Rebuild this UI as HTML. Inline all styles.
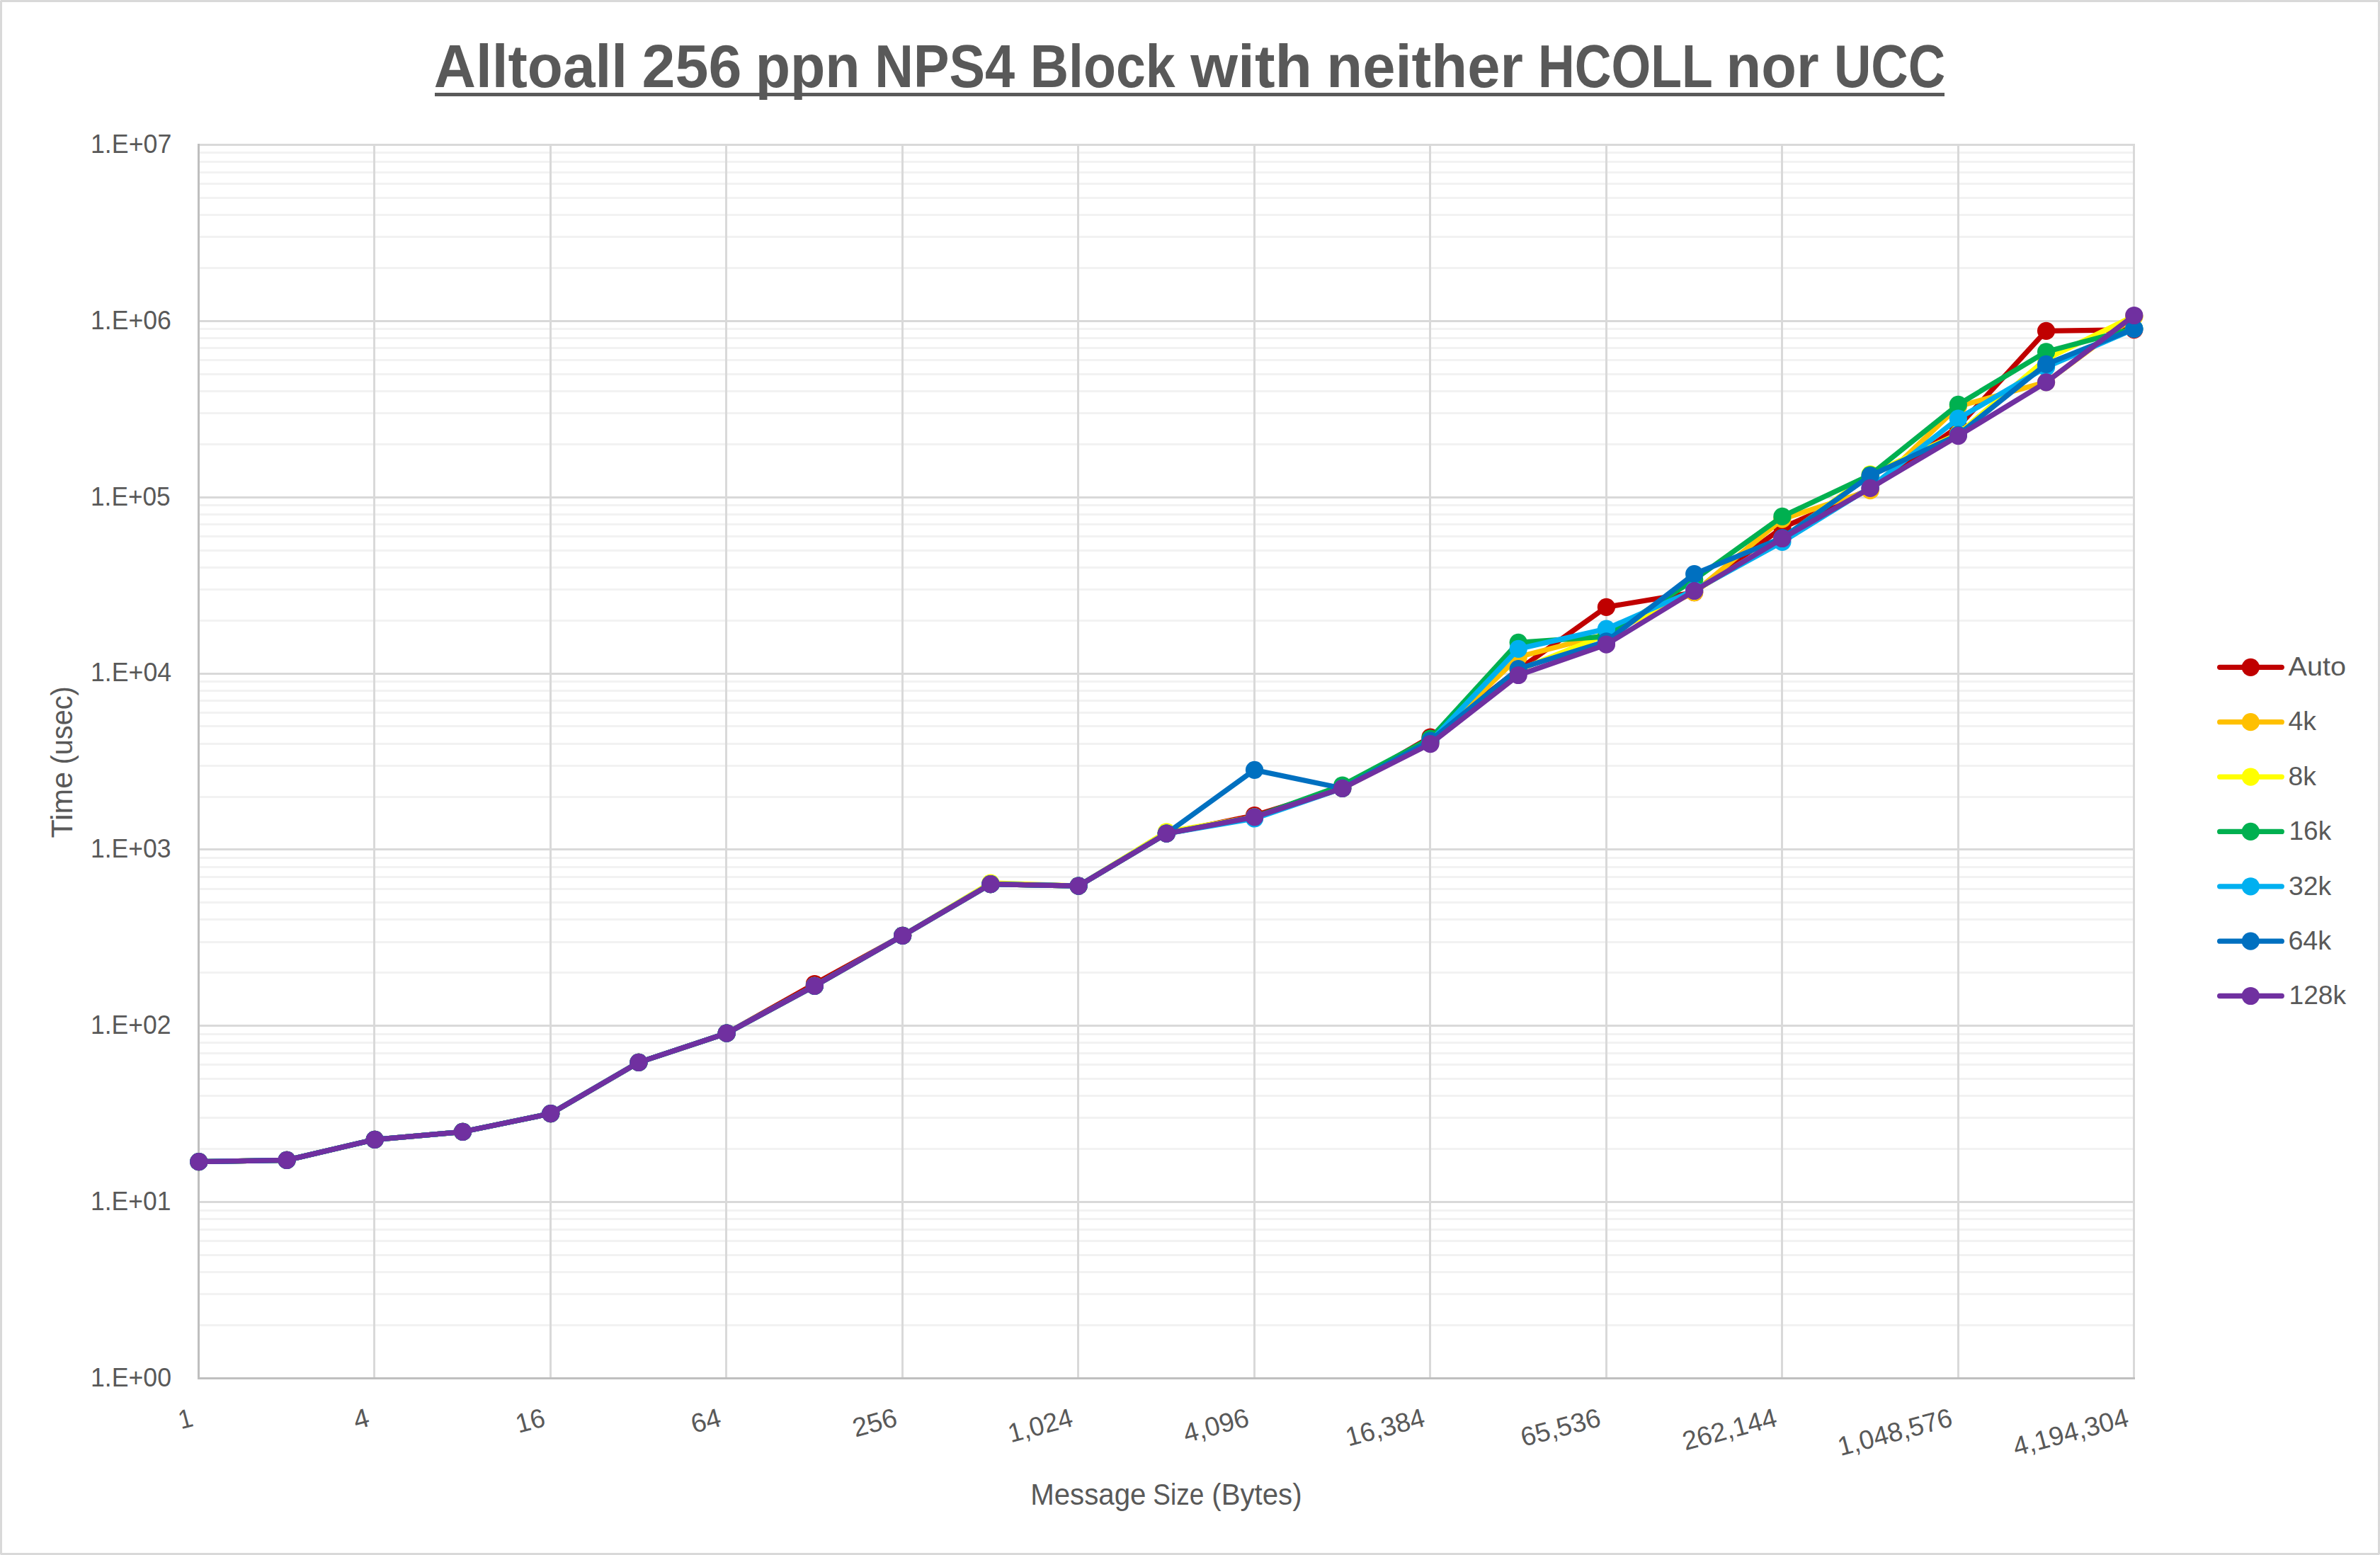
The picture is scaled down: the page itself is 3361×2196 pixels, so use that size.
<!DOCTYPE html>
<html lang="en"><head><meta charset="utf-8"><title>Alltoall 256 ppn NPS4 Block with neither HCOLL nor UCC</title>
<style>
html,body{margin:0;padding:0;background:#fff;}
body{width:3361px;height:2196px;overflow:hidden;}
svg{display:block;}
text{font-family:"Liberation Sans", sans-serif;fill:#595959;}
</style></head><body>
<svg width="3361" height="2196" viewBox="0 0 3361 2196">
<rect x="0" y="0" width="3361" height="2196" fill="#fff"/>
<rect x="1.5" y="1.5" width="3358" height="2193" fill="none" stroke="#D9D9D9" stroke-width="3"/>
<g fill="#F4F4F4"><rect x="0" y="0" width="1" height="1"/><rect x="3360" y="0" width="1" height="1"/><rect x="0" y="2195" width="1" height="1"/><rect x="3360" y="2195" width="1" height="1"/></g>

<g stroke="#F2F2F2" stroke-width="3" shape-rendering="crispEdges">
<line x1="280.5" x2="3013.5" y1="1871.50" y2="1871.50"/>
<line x1="280.5" x2="3013.5" y1="1827.50" y2="1827.50"/>
<line x1="280.5" x2="3013.5" y1="1796.50" y2="1796.50"/>
<line x1="280.5" x2="3013.5" y1="1772.50" y2="1772.50"/>
<line x1="280.5" x2="3013.5" y1="1752.50" y2="1752.50"/>
<line x1="280.5" x2="3013.5" y1="1736.50" y2="1736.50"/>
<line x1="280.5" x2="3013.5" y1="1721.50" y2="1721.50"/>
<line x1="280.5" x2="3013.5" y1="1709.50" y2="1709.50"/>
<line x1="280.5" x2="3013.5" y1="1622.50" y2="1622.50"/>
<line x1="280.5" x2="3013.5" y1="1578.50" y2="1578.50"/>
<line x1="280.5" x2="3013.5" y1="1547.50" y2="1547.50"/>
<line x1="280.5" x2="3013.5" y1="1523.50" y2="1523.50"/>
<line x1="280.5" x2="3013.5" y1="1503.50" y2="1503.50"/>
<line x1="280.5" x2="3013.5" y1="1487.50" y2="1487.50"/>
<line x1="280.5" x2="3013.5" y1="1472.50" y2="1472.50"/>
<line x1="280.5" x2="3013.5" y1="1460.50" y2="1460.50"/>
<line x1="280.5" x2="3013.5" y1="1373.50" y2="1373.50"/>
<line x1="280.5" x2="3013.5" y1="1330.50" y2="1330.50"/>
<line x1="280.5" x2="3013.5" y1="1298.50" y2="1298.50"/>
<line x1="280.5" x2="3013.5" y1="1274.50" y2="1274.50"/>
<line x1="280.5" x2="3013.5" y1="1255.50" y2="1255.50"/>
<line x1="280.5" x2="3013.5" y1="1238.50" y2="1238.50"/>
<line x1="280.5" x2="3013.5" y1="1224.50" y2="1224.50"/>
<line x1="280.5" x2="3013.5" y1="1211.50" y2="1211.50"/>
<line x1="280.5" x2="3013.5" y1="1125.50" y2="1125.50"/>
<line x1="280.5" x2="3013.5" y1="1081.50" y2="1081.50"/>
<line x1="280.5" x2="3013.5" y1="1050.50" y2="1050.50"/>
<line x1="280.5" x2="3013.5" y1="1025.50" y2="1025.50"/>
<line x1="280.5" x2="3013.5" y1="1006.50" y2="1006.50"/>
<line x1="280.5" x2="3013.5" y1="989.50" y2="989.50"/>
<line x1="280.5" x2="3013.5" y1="975.50" y2="975.50"/>
<line x1="280.5" x2="3013.5" y1="962.50" y2="962.50"/>
<line x1="280.5" x2="3013.5" y1="876.50" y2="876.50"/>
<line x1="280.5" x2="3013.5" y1="832.50" y2="832.50"/>
<line x1="280.5" x2="3013.5" y1="801.50" y2="801.50"/>
<line x1="280.5" x2="3013.5" y1="777.50" y2="777.50"/>
<line x1="280.5" x2="3013.5" y1="757.50" y2="757.50"/>
<line x1="280.5" x2="3013.5" y1="740.50" y2="740.50"/>
<line x1="280.5" x2="3013.5" y1="726.50" y2="726.50"/>
<line x1="280.5" x2="3013.5" y1="713.50" y2="713.50"/>
<line x1="280.5" x2="3013.5" y1="627.50" y2="627.50"/>
<line x1="280.5" x2="3013.5" y1="583.50" y2="583.50"/>
<line x1="280.5" x2="3013.5" y1="552.50" y2="552.50"/>
<line x1="280.5" x2="3013.5" y1="528.50" y2="528.50"/>
<line x1="280.5" x2="3013.5" y1="508.50" y2="508.50"/>
<line x1="280.5" x2="3013.5" y1="491.50" y2="491.50"/>
<line x1="280.5" x2="3013.5" y1="477.50" y2="477.50"/>
<line x1="280.5" x2="3013.5" y1="464.50" y2="464.50"/>
<line x1="280.5" x2="3013.5" y1="378.50" y2="378.50"/>
<line x1="280.5" x2="3013.5" y1="334.50" y2="334.50"/>
<line x1="280.5" x2="3013.5" y1="303.50" y2="303.50"/>
<line x1="280.5" x2="3013.5" y1="279.50" y2="279.50"/>
<line x1="280.5" x2="3013.5" y1="259.50" y2="259.50"/>
<line x1="280.5" x2="3013.5" y1="243.50" y2="243.50"/>
<line x1="280.5" x2="3013.5" y1="228.50" y2="228.50"/>
<line x1="280.5" x2="3013.5" y1="215.50" y2="215.50"/>
</g>
<g stroke="#D9D9D9" stroke-width="3">
<line x1="279.0" x2="3015.0" y1="1697.50" y2="1697.50"/>
<line x1="279.0" x2="3015.0" y1="1448.50" y2="1448.50"/>
<line x1="279.0" x2="3015.0" y1="1199.50" y2="1199.50"/>
<line x1="279.0" x2="3015.0" y1="951.50" y2="951.50"/>
<line x1="279.0" x2="3015.0" y1="702.50" y2="702.50"/>
<line x1="279.0" x2="3015.0" y1="453.50" y2="453.50"/>
<line x1="279.0" x2="3015.0" y1="204.50" y2="204.50"/>
<line x1="528.50" x2="528.50" y1="203.0" y2="1946.5"/>
<line x1="777.50" x2="777.50" y1="203.0" y2="1946.5"/>
<line x1="1025.50" x2="1025.50" y1="203.0" y2="1946.5"/>
<line x1="1274.50" x2="1274.50" y1="203.0" y2="1946.5"/>
<line x1="1522.50" x2="1522.50" y1="203.0" y2="1946.5"/>
<line x1="1771.50" x2="1771.50" y1="203.0" y2="1946.5"/>
<line x1="2019.50" x2="2019.50" y1="203.0" y2="1946.5"/>
<line x1="2268.50" x2="2268.50" y1="203.0" y2="1946.5"/>
<line x1="2516.50" x2="2516.50" y1="203.0" y2="1946.5"/>
<line x1="2765.50" x2="2765.50" y1="203.0" y2="1946.5"/>
<line x1="3013.50" x2="3013.50" y1="203.0" y2="1946.5"/>
</g>
<g stroke="#BFBFBF" stroke-width="3"><line x1="280.5" x2="280.5" y1="203.0" y2="1948.0"/><line x1="279.0" x2="3015.0" y1="1946.5" y2="1946.5"/></g>
<g fill="#C00000" stroke="none">
<polyline points="280.80,1640.70 405.03,1638.40 529.25,1609.30 653.48,1598.30 777.71,1572.60 901.94,1500.40 1026.16,1459.20 1150.39,1389.50 1274.62,1321.30 1398.85,1248.70 1523.07,1251.10 1647.30,1177.10 1771.53,1151.50 1895.75,1113.30 2019.98,1041.00 2144.21,945.70 2268.44,857.30 2392.66,836.60 2516.89,745.20 2641.12,690.50 2765.35,602.50 2889.57,467.30 3013.80,465.60" fill="none" stroke="#C00000" stroke-width="7.3" stroke-linecap="round" stroke-linejoin="round"/>
<circle cx="280.80" cy="1640.70" r="12.6"/>
<circle cx="405.03" cy="1638.40" r="12.6"/>
<circle cx="529.25" cy="1609.30" r="12.6"/>
<circle cx="653.48" cy="1598.30" r="12.6"/>
<circle cx="777.71" cy="1572.60" r="12.6"/>
<circle cx="901.94" cy="1500.40" r="12.6"/>
<circle cx="1026.16" cy="1459.20" r="12.6"/>
<circle cx="1150.39" cy="1389.50" r="12.6"/>
<circle cx="1274.62" cy="1321.30" r="12.6"/>
<circle cx="1398.85" cy="1248.70" r="12.6"/>
<circle cx="1523.07" cy="1251.10" r="12.6"/>
<circle cx="1647.30" cy="1177.10" r="12.6"/>
<circle cx="1771.53" cy="1151.50" r="12.6"/>
<circle cx="1895.75" cy="1113.30" r="12.6"/>
<circle cx="2019.98" cy="1041.00" r="12.6"/>
<circle cx="2144.21" cy="945.70" r="12.6"/>
<circle cx="2268.44" cy="857.30" r="12.6"/>
<circle cx="2392.66" cy="836.60" r="12.6"/>
<circle cx="2516.89" cy="745.20" r="12.6"/>
<circle cx="2641.12" cy="690.50" r="12.6"/>
<circle cx="2765.35" cy="602.50" r="12.6"/>
<circle cx="2889.57" cy="467.30" r="12.6"/>
<circle cx="3013.80" cy="465.60" r="12.6"/>
</g>
<g fill="#FFC000" stroke="none">
<polyline points="280.80,1640.70 405.03,1638.40 529.25,1609.30 653.48,1598.30 777.71,1572.60 901.94,1500.40 1026.16,1459.20 1150.39,1392.30 1274.62,1321.30 1398.85,1248.70 1523.07,1251.10 1647.30,1177.10 1771.53,1153.90 1895.75,1113.30 2019.98,1047.50 2144.21,927.80 2268.44,895.80 2392.66,836.60 2516.89,733.20 2641.12,692.70 2765.35,574.00 2889.57,539.60 3013.80,447.30" fill="none" stroke="#FFC000" stroke-width="7.3" stroke-linecap="round" stroke-linejoin="round"/>
<circle cx="280.80" cy="1640.70" r="12.6"/>
<circle cx="405.03" cy="1638.40" r="12.6"/>
<circle cx="529.25" cy="1609.30" r="12.6"/>
<circle cx="653.48" cy="1598.30" r="12.6"/>
<circle cx="777.71" cy="1572.60" r="12.6"/>
<circle cx="901.94" cy="1500.40" r="12.6"/>
<circle cx="1026.16" cy="1459.20" r="12.6"/>
<circle cx="1150.39" cy="1392.30" r="12.6"/>
<circle cx="1274.62" cy="1321.30" r="12.6"/>
<circle cx="1398.85" cy="1248.70" r="12.6"/>
<circle cx="1523.07" cy="1251.10" r="12.6"/>
<circle cx="1647.30" cy="1177.10" r="12.6"/>
<circle cx="1771.53" cy="1153.90" r="12.6"/>
<circle cx="1895.75" cy="1113.30" r="12.6"/>
<circle cx="2019.98" cy="1047.50" r="12.6"/>
<circle cx="2144.21" cy="927.80" r="12.6"/>
<circle cx="2268.44" cy="895.80" r="12.6"/>
<circle cx="2392.66" cy="836.60" r="12.6"/>
<circle cx="2516.89" cy="733.20" r="12.6"/>
<circle cx="2641.12" cy="692.70" r="12.6"/>
<circle cx="2765.35" cy="574.00" r="12.6"/>
<circle cx="2889.57" cy="539.60" r="12.6"/>
<circle cx="3013.80" cy="447.30" r="12.6"/>
</g>
<g fill="#FFFF00" stroke="none">
<polyline points="280.80,1640.70 405.03,1638.40 529.25,1609.30 653.48,1598.30 777.71,1572.60 901.94,1500.40 1026.16,1459.20 1150.39,1392.30 1274.62,1321.30 1398.85,1247.00 1523.07,1251.10 1647.30,1174.80 1771.53,1153.90 1895.75,1113.30 2019.98,1048.50 2144.21,946.40 2268.44,896.20 2392.66,834.80 2516.89,760.50 2641.12,669.80 2765.35,612.80 2889.57,507.00 3013.80,446.40" fill="none" stroke="#FFFF00" stroke-width="7.3" stroke-linecap="round" stroke-linejoin="round"/>
<circle cx="280.80" cy="1640.70" r="12.6"/>
<circle cx="405.03" cy="1638.40" r="12.6"/>
<circle cx="529.25" cy="1609.30" r="12.6"/>
<circle cx="653.48" cy="1598.30" r="12.6"/>
<circle cx="777.71" cy="1572.60" r="12.6"/>
<circle cx="901.94" cy="1500.40" r="12.6"/>
<circle cx="1026.16" cy="1459.20" r="12.6"/>
<circle cx="1150.39" cy="1392.30" r="12.6"/>
<circle cx="1274.62" cy="1321.30" r="12.6"/>
<circle cx="1398.85" cy="1247.00" r="12.6"/>
<circle cx="1523.07" cy="1251.10" r="12.6"/>
<circle cx="1647.30" cy="1174.80" r="12.6"/>
<circle cx="1771.53" cy="1153.90" r="12.6"/>
<circle cx="1895.75" cy="1113.30" r="12.6"/>
<circle cx="2019.98" cy="1048.50" r="12.6"/>
<circle cx="2144.21" cy="946.40" r="12.6"/>
<circle cx="2268.44" cy="896.20" r="12.6"/>
<circle cx="2392.66" cy="834.80" r="12.6"/>
<circle cx="2516.89" cy="760.50" r="12.6"/>
<circle cx="2641.12" cy="669.80" r="12.6"/>
<circle cx="2765.35" cy="612.80" r="12.6"/>
<circle cx="2889.57" cy="507.00" r="12.6"/>
<circle cx="3013.80" cy="446.40" r="12.6"/>
</g>
<g fill="#00B050" stroke="none">
<polyline points="280.80,1640.70 405.03,1638.40 529.25,1609.30 653.48,1598.30 777.71,1572.60 901.94,1500.40 1026.16,1459.20 1150.39,1392.30 1274.62,1321.30 1398.85,1248.70 1523.07,1251.10 1647.30,1177.10 1771.53,1153.90 1895.75,1109.00 2019.98,1043.00 2144.21,907.30 2268.44,898.80 2392.66,818.60 2516.89,729.40 2641.12,670.90 2765.35,571.30 2889.57,496.80 3013.80,463.80" fill="none" stroke="#00B050" stroke-width="7.3" stroke-linecap="round" stroke-linejoin="round"/>
<circle cx="280.80" cy="1640.70" r="12.6"/>
<circle cx="405.03" cy="1638.40" r="12.6"/>
<circle cx="529.25" cy="1609.30" r="12.6"/>
<circle cx="653.48" cy="1598.30" r="12.6"/>
<circle cx="777.71" cy="1572.60" r="12.6"/>
<circle cx="901.94" cy="1500.40" r="12.6"/>
<circle cx="1026.16" cy="1459.20" r="12.6"/>
<circle cx="1150.39" cy="1392.30" r="12.6"/>
<circle cx="1274.62" cy="1321.30" r="12.6"/>
<circle cx="1398.85" cy="1248.70" r="12.6"/>
<circle cx="1523.07" cy="1251.10" r="12.6"/>
<circle cx="1647.30" cy="1177.10" r="12.6"/>
<circle cx="1771.53" cy="1153.90" r="12.6"/>
<circle cx="1895.75" cy="1109.00" r="12.6"/>
<circle cx="2019.98" cy="1043.00" r="12.6"/>
<circle cx="2144.21" cy="907.30" r="12.6"/>
<circle cx="2268.44" cy="898.80" r="12.6"/>
<circle cx="2392.66" cy="818.60" r="12.6"/>
<circle cx="2516.89" cy="729.40" r="12.6"/>
<circle cx="2641.12" cy="670.90" r="12.6"/>
<circle cx="2765.35" cy="571.30" r="12.6"/>
<circle cx="2889.57" cy="496.80" r="12.6"/>
<circle cx="3013.80" cy="463.80" r="12.6"/>
</g>
<g fill="#00B0F0" stroke="none">
<polyline points="280.80,1640.70 405.03,1638.40 529.25,1609.30 653.48,1598.30 777.71,1572.60 901.94,1500.40 1026.16,1459.20 1150.39,1392.30 1274.62,1321.30 1398.85,1248.70 1523.07,1251.10 1647.30,1177.10 1771.53,1156.00 1895.75,1113.30 2019.98,1047.00 2144.21,916.40 2268.44,888.10 2392.66,833.50 2516.89,765.30 2641.12,688.30 2765.35,591.20 2889.57,518.50 3013.80,464.60" fill="none" stroke="#00B0F0" stroke-width="7.3" stroke-linecap="round" stroke-linejoin="round"/>
<circle cx="280.80" cy="1640.70" r="12.6"/>
<circle cx="405.03" cy="1638.40" r="12.6"/>
<circle cx="529.25" cy="1609.30" r="12.6"/>
<circle cx="653.48" cy="1598.30" r="12.6"/>
<circle cx="777.71" cy="1572.60" r="12.6"/>
<circle cx="901.94" cy="1500.40" r="12.6"/>
<circle cx="1026.16" cy="1459.20" r="12.6"/>
<circle cx="1150.39" cy="1392.30" r="12.6"/>
<circle cx="1274.62" cy="1321.30" r="12.6"/>
<circle cx="1398.85" cy="1248.70" r="12.6"/>
<circle cx="1523.07" cy="1251.10" r="12.6"/>
<circle cx="1647.30" cy="1177.10" r="12.6"/>
<circle cx="1771.53" cy="1156.00" r="12.6"/>
<circle cx="1895.75" cy="1113.30" r="12.6"/>
<circle cx="2019.98" cy="1047.00" r="12.6"/>
<circle cx="2144.21" cy="916.40" r="12.6"/>
<circle cx="2268.44" cy="888.10" r="12.6"/>
<circle cx="2392.66" cy="833.50" r="12.6"/>
<circle cx="2516.89" cy="765.30" r="12.6"/>
<circle cx="2641.12" cy="688.30" r="12.6"/>
<circle cx="2765.35" cy="591.20" r="12.6"/>
<circle cx="2889.57" cy="518.50" r="12.6"/>
<circle cx="3013.80" cy="464.60" r="12.6"/>
</g>
<g fill="#0070C0" stroke="none">
<polyline points="280.80,1640.70 405.03,1638.40 529.25,1609.30 653.48,1598.30 777.71,1572.60 901.94,1500.40 1026.16,1459.20 1150.39,1392.30 1274.62,1321.30 1398.85,1248.70 1523.07,1251.10 1647.30,1177.10 1771.53,1087.30 1895.75,1113.30 2019.98,1046.00 2144.21,944.60 2268.44,905.80 2392.66,810.60 2516.89,759.60 2641.12,671.90 2765.35,614.00 2889.57,514.40 3013.80,464.30" fill="none" stroke="#0070C0" stroke-width="7.3" stroke-linecap="round" stroke-linejoin="round"/>
<circle cx="280.80" cy="1640.70" r="12.6"/>
<circle cx="405.03" cy="1638.40" r="12.6"/>
<circle cx="529.25" cy="1609.30" r="12.6"/>
<circle cx="653.48" cy="1598.30" r="12.6"/>
<circle cx="777.71" cy="1572.60" r="12.6"/>
<circle cx="901.94" cy="1500.40" r="12.6"/>
<circle cx="1026.16" cy="1459.20" r="12.6"/>
<circle cx="1150.39" cy="1392.30" r="12.6"/>
<circle cx="1274.62" cy="1321.30" r="12.6"/>
<circle cx="1398.85" cy="1248.70" r="12.6"/>
<circle cx="1523.07" cy="1251.10" r="12.6"/>
<circle cx="1647.30" cy="1177.10" r="12.6"/>
<circle cx="1771.53" cy="1087.30" r="12.6"/>
<circle cx="1895.75" cy="1113.30" r="12.6"/>
<circle cx="2019.98" cy="1046.00" r="12.6"/>
<circle cx="2144.21" cy="944.60" r="12.6"/>
<circle cx="2268.44" cy="905.80" r="12.6"/>
<circle cx="2392.66" cy="810.60" r="12.6"/>
<circle cx="2516.89" cy="759.60" r="12.6"/>
<circle cx="2641.12" cy="671.90" r="12.6"/>
<circle cx="2765.35" cy="614.00" r="12.6"/>
<circle cx="2889.57" cy="514.40" r="12.6"/>
<circle cx="3013.80" cy="464.30" r="12.6"/>
</g>
<g fill="#7030A0" stroke="none">
<polyline points="280.80,1640.70 405.03,1638.40 529.25,1609.30 653.48,1598.30 777.71,1572.60 901.94,1500.40 1026.16,1459.20 1150.39,1392.30 1274.62,1321.30 1398.85,1248.70 1523.07,1251.10 1647.30,1177.10 1771.53,1153.90 1895.75,1113.30 2019.98,1050.60 2144.21,953.50 2268.44,910.20 2392.66,834.50 2516.89,760.50 2641.12,689.40 2765.35,615.60 2889.57,539.80 3013.80,445.50" fill="none" stroke="#7030A0" stroke-width="7.3" stroke-linecap="round" stroke-linejoin="round"/>
<circle cx="280.80" cy="1640.70" r="12.6"/>
<circle cx="405.03" cy="1638.40" r="12.6"/>
<circle cx="529.25" cy="1609.30" r="12.6"/>
<circle cx="653.48" cy="1598.30" r="12.6"/>
<circle cx="777.71" cy="1572.60" r="12.6"/>
<circle cx="901.94" cy="1500.40" r="12.6"/>
<circle cx="1026.16" cy="1459.20" r="12.6"/>
<circle cx="1150.39" cy="1392.30" r="12.6"/>
<circle cx="1274.62" cy="1321.30" r="12.6"/>
<circle cx="1398.85" cy="1248.70" r="12.6"/>
<circle cx="1523.07" cy="1251.10" r="12.6"/>
<circle cx="1647.30" cy="1177.10" r="12.6"/>
<circle cx="1771.53" cy="1153.90" r="12.6"/>
<circle cx="1895.75" cy="1113.30" r="12.6"/>
<circle cx="2019.98" cy="1050.60" r="12.6"/>
<circle cx="2144.21" cy="953.50" r="12.6"/>
<circle cx="2268.44" cy="910.20" r="12.6"/>
<circle cx="2392.66" cy="834.50" r="12.6"/>
<circle cx="2516.89" cy="760.50" r="12.6"/>
<circle cx="2641.12" cy="689.40" r="12.6"/>
<circle cx="2765.35" cy="615.60" r="12.6"/>
<circle cx="2889.57" cy="539.80" r="12.6"/>
<circle cx="3013.80" cy="445.50" r="12.6"/>
</g>
<text y="122.60" font-size="84.943" font-weight="bold"><tspan x="612.81" textLength="273.25" lengthAdjust="spacingAndGlyphs">Alltoall</tspan> <tspan x="906.60" textLength="140.70" lengthAdjust="spacingAndGlyphs">256</tspan> <tspan x="1066.75" textLength="147.93" lengthAdjust="spacingAndGlyphs">ppn</tspan> <tspan x="1235.26" textLength="197.87" lengthAdjust="spacingAndGlyphs">NPS4</tspan> <tspan x="1454.77" textLength="204.84" lengthAdjust="spacingAndGlyphs">Block</tspan> <tspan x="1681.24" textLength="171.70" lengthAdjust="spacingAndGlyphs">with</tspan> <tspan x="1873.34" textLength="277.48" lengthAdjust="spacingAndGlyphs">neither</tspan> <tspan x="2171.98" textLength="245.62" lengthAdjust="spacingAndGlyphs">HCOLL</tspan> <tspan x="2437.58" textLength="131.03" lengthAdjust="spacingAndGlyphs">nor</tspan> <tspan x="2589.91" textLength="157.25" lengthAdjust="spacingAndGlyphs">UCC</tspan></text>
<rect x="614" y="131" width="2132" height="5" fill="#595959"/>
<text y="1957.80" font-size="37.577"><tspan x="127.97" textLength="114.08" lengthAdjust="spacingAndGlyphs">1.E+00</tspan></text>
<text y="1708.94" font-size="37.577"><tspan x="127.99" textLength="113.42" lengthAdjust="spacingAndGlyphs">1.E+01</tspan></text>
<text y="1460.09" font-size="37.577"><tspan x="127.98" textLength="113.66" lengthAdjust="spacingAndGlyphs">1.E+02</tspan></text>
<text y="1211.23" font-size="37.577"><tspan x="127.98" textLength="113.66" lengthAdjust="spacingAndGlyphs">1.E+03</tspan></text>
<text y="962.37" font-size="37.577"><tspan x="127.97" textLength="114.13" lengthAdjust="spacingAndGlyphs">1.E+04</tspan></text>
<text y="713.51" font-size="37.577"><tspan x="128.01" textLength="112.69" lengthAdjust="spacingAndGlyphs">1.E+05</tspan></text>
<text y="464.66" font-size="37.577"><tspan x="127.98" textLength="113.88" lengthAdjust="spacingAndGlyphs">1.E+06</tspan></text>
<text y="215.80" font-size="37.577"><tspan x="127.97" textLength="114.31" lengthAdjust="spacingAndGlyphs">1.E+07</tspan></text>
<text y="2013.40" font-size="37.577" transform="rotate(-15 274.80 2013.40)"><tspan x="255.03" textLength="19.54" lengthAdjust="spacingAndGlyphs">1</tspan></text>
<text y="2013.40" font-size="37.577" transform="rotate(-15 523.25 2013.40)"><tspan x="502.31" textLength="21.51" lengthAdjust="spacingAndGlyphs">4</tspan></text>
<text y="2013.40" font-size="37.577" transform="rotate(-15 771.71 2013.40)"><tspan x="730.96" textLength="40.97" lengthAdjust="spacingAndGlyphs">16</tspan></text>
<text y="2013.40" font-size="37.577" transform="rotate(-15 1020.16 2013.40)"><tspan x="978.27" textLength="42.22" lengthAdjust="spacingAndGlyphs">64</tspan></text>
<text y="2013.40" font-size="37.577" transform="rotate(-15 1268.62 2013.40)"><tspan x="1205.82" textLength="63.26" lengthAdjust="spacingAndGlyphs">256</tspan></text>
<text y="2013.40" font-size="37.577" transform="rotate(-15 1517.07 2013.40)"><tspan x="1424.31" textLength="92.88" lengthAdjust="spacingAndGlyphs">1,024</tspan></text>
<text y="2013.40" font-size="37.577" transform="rotate(-15 1765.53 2013.40)"><tspan x="1671.75" textLength="94.20" lengthAdjust="spacingAndGlyphs">4,096</tspan></text>
<text y="2013.40" font-size="37.577" transform="rotate(-15 2013.98 2013.40)"><tspan x="1900.36" textLength="113.89" lengthAdjust="spacingAndGlyphs">16,384</tspan></text>
<text y="2013.40" font-size="37.577" transform="rotate(-15 2262.44 2013.40)"><tspan x="2147.71" textLength="114.92" lengthAdjust="spacingAndGlyphs">65,536</tspan></text>
<text y="2013.40" font-size="37.577" transform="rotate(-15 2510.89 2013.40)"><tspan x="2375.27" textLength="136.19" lengthAdjust="spacingAndGlyphs">262,144</tspan></text>
<text y="2013.40" font-size="37.577" transform="rotate(-15 2759.35 2013.40)"><tspan x="2593.74" textLength="165.60" lengthAdjust="spacingAndGlyphs">1,048,576</tspan></text>
<text y="2013.40" font-size="37.577" transform="rotate(-15 3007.80 2013.40)"><tspan x="2841.20" textLength="166.94" lengthAdjust="spacingAndGlyphs">4,194,304</tspan></text>
<text y="2124.70" font-size="41.587"><tspan x="1455.17" textLength="163.29" lengthAdjust="spacingAndGlyphs">Message</tspan> <tspan x="1628.35" textLength="72.02" lengthAdjust="spacingAndGlyphs">Size</tspan> <tspan x="1711.25" textLength="127.34" lengthAdjust="spacingAndGlyphs">(Bytes)</tspan></text>
<text y="1075.50" font-size="41.587" transform="rotate(-90 102.00 1075.50)"><tspan x="-6.03" textLength="93.65" lengthAdjust="spacingAndGlyphs">Time</tspan> <tspan x="98.04" textLength="110.30" lengthAdjust="spacingAndGlyphs">(usec)</tspan></text>
<line x1="3134.65" x2="3222.25" y1="942.30" y2="942.30" stroke="#C00000" stroke-width="7.3" stroke-linecap="round"/><circle cx="3178.3" cy="942.30" r="12.6" fill="#C00000"/>
<text y="954.10" font-size="37.577"><tspan x="3231.54" textLength="81.48" lengthAdjust="spacingAndGlyphs">Auto</tspan></text>
<line x1="3134.65" x2="3222.25" y1="1019.67" y2="1019.67" stroke="#FFC000" stroke-width="7.3" stroke-linecap="round"/><circle cx="3178.3" cy="1019.67" r="12.6" fill="#FFC000"/>
<text y="1031.47" font-size="37.577"><tspan x="3231.47" textLength="39.45" lengthAdjust="spacingAndGlyphs">4k</tspan></text>
<line x1="3134.65" x2="3222.25" y1="1097.04" y2="1097.04" stroke="#FFFF00" stroke-width="7.3" stroke-linecap="round"/><circle cx="3178.3" cy="1097.04" r="12.6" fill="#FFFF00"/>
<text y="1108.84" font-size="37.577"><tspan x="3231.57" textLength="39.35" lengthAdjust="spacingAndGlyphs">8k</tspan></text>
<line x1="3134.65" x2="3222.25" y1="1174.41" y2="1174.41" stroke="#00B050" stroke-width="7.3" stroke-linecap="round"/><circle cx="3178.3" cy="1174.41" r="12.6" fill="#00B050"/>
<text y="1186.21" font-size="37.577"><tspan x="3232.53" textLength="59.70" lengthAdjust="spacingAndGlyphs">16k</tspan></text>
<line x1="3134.65" x2="3222.25" y1="1251.78" y2="1251.78" stroke="#00B0F0" stroke-width="7.3" stroke-linecap="round"/><circle cx="3178.3" cy="1251.78" r="12.6" fill="#00B0F0"/>
<text y="1263.58" font-size="37.577"><tspan x="3231.93" textLength="60.29" lengthAdjust="spacingAndGlyphs">32k</tspan></text>
<line x1="3134.65" x2="3222.25" y1="1329.15" y2="1329.15" stroke="#0070C0" stroke-width="7.3" stroke-linecap="round"/><circle cx="3178.3" cy="1329.15" r="12.6" fill="#0070C0"/>
<text y="1340.95" font-size="37.577"><tspan x="3231.38" textLength="60.85" lengthAdjust="spacingAndGlyphs">64k</tspan></text>
<line x1="3134.65" x2="3222.25" y1="1406.52" y2="1406.52" stroke="#7030A0" stroke-width="7.3" stroke-linecap="round"/><circle cx="3178.3" cy="1406.52" r="12.6" fill="#7030A0"/>
<text y="1418.32" font-size="37.577"><tspan x="3232.52" textLength="80.58" lengthAdjust="spacingAndGlyphs">128k</tspan></text>
</svg></body></html>
